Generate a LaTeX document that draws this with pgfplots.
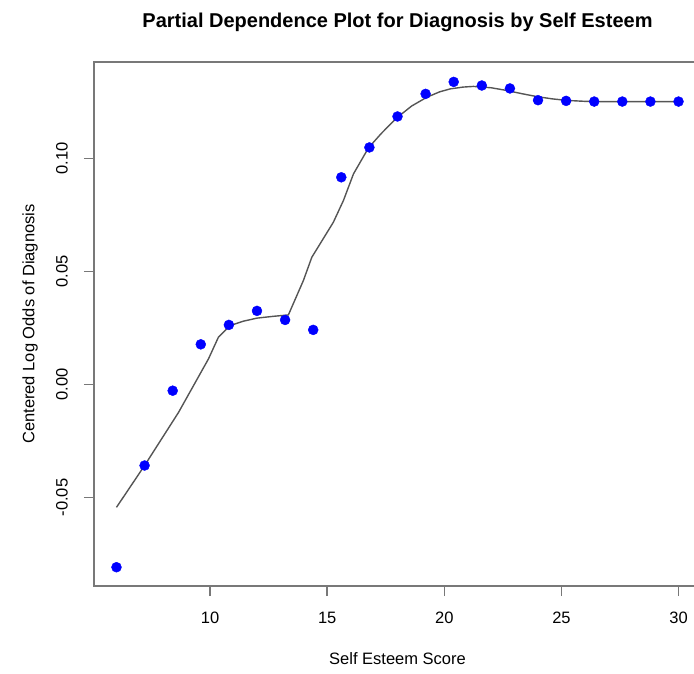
\documentclass[border=0pt]{standalone}
\usepackage{pgfplots}
\pgfplotsset{compat=1.18}
\usepackage{fontspec}
\setmainfont{Liberation Sans}
\definecolor{boxgray}{RGB}{120,120,120}
\definecolor{linegray}{RGB}{85,85,85}
\begin{document}
\begin{tikzpicture}[x=1pt,y=1pt]
\begin{axis}[
  at={(94pt,87pt)}, anchor=south west,
  scale only axis, width=607pt, height=524pt,
  xmin=5.04, xmax=30.96, ymin=-0.0891, ymax=0.1427,
  axis line style={boxgray, line width=1.6pt},
  tick style={boxgray, line width=1.6pt},
  tick align=outside, tick pos=left,
  major tick length=10pt,
  xtick={10,15,20,25,30},
  xticklabels={10,15,20,25,30},
  ytick={-0.05,0,0.05,0.1},
  yticklabels={-0.05,0.00,0.05,0.10},
  ticklabel style={font=\fontsize{16.5}{18}\selectfont},
  xticklabel style={anchor=center, yshift=-21.5pt},
  yticklabel style={rotate=90, anchor=center, yshift=22pt},
  xlabel={Self Esteem Score},
  ylabel={Centered Log Odds of Diagnosis},
  label style={font=\fontsize{16.5}{18}\selectfont},
  xlabel style={at={(axis description cs:0.5,0)}, anchor=center, yshift=-73pt},
  ylabel style={at={(axis description cs:0,0.5)}, anchor=center, yshift=64pt},
  title={\bfseries Partial Dependence Plot for Diagnosis by Self Esteem},
  title style={font=\fontsize{20}{22}\selectfont, at={(axis description cs:0.5,1)}, anchor=center, yshift=34pt},
]
\addplot[linegray, line width=1.4pt] coordinates {
  (6.0,-0.0543) (7.2,-0.0358) (8.65,-0.0123) (9.93,0.0114) (10.35,0.0209)
  (10.85,0.0261) (11.4,0.0280) (12.0,0.0294) (12.7,0.0302) (13.34,0.0308)
  (13.98,0.0460) (14.34,0.0563) (15.26,0.0718) (15.69,0.0814) (16.12,0.0932)
  (16.76,0.1047) (17.3,0.1110) (17.97,0.1180) (18.6,0.1232) (19.25,0.1271)
  (19.8,0.1295) (20.25,0.1308) (20.8,0.1316) (21.24,0.1319) (22.0,0.1313)
  (22.67,0.1301) (23.3,0.1287) (23.95,0.1274) (24.6,0.1264) (25.23,0.1257)
  (26.0,0.1253) (26.65,0.1252) (30.0,0.1252)
};
\addplot[only marks, mark=*, mark size=5pt, blue, mark options={draw=none, fill=blue}] coordinates {
  (6.0,-0.0808) (7.2,-0.0358) (8.4,-0.0027) (9.6,0.0178) (10.8,0.0264)
  (12.0,0.0326) (13.2,0.0286) (14.4,0.0242) (15.6,0.0917) (16.8,0.1049)
  (18.0,0.1186) (19.2,0.1286) (20.4,0.1339) (21.6,0.1323) (22.8,0.1310)
  (24.0,0.1258) (25.2,0.1255) (26.4,0.1252) (27.6,0.1252) (28.8,0.1252)
  (30.0,0.1252)
};
\end{axis}
\pgfresetboundingbox
\useasboundingbox (0,0) rectangle (694pt,673pt);
\end{tikzpicture}
\end{document}
